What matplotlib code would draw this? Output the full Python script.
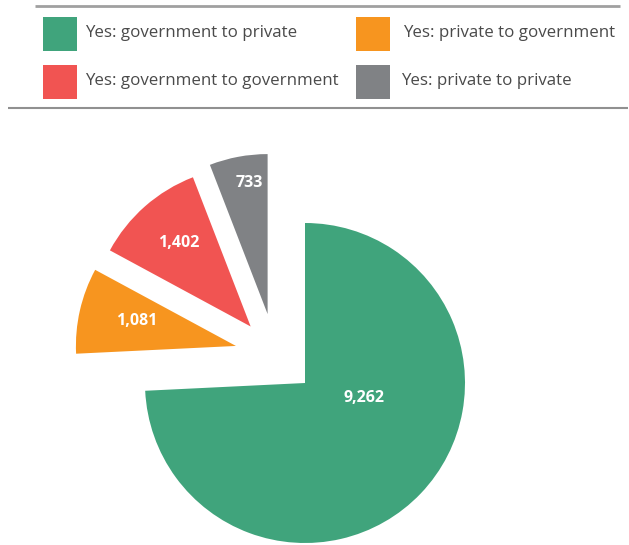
import numpy as np
import matplotlib.pyplot as plt
from matplotlib.patches import Rectangle

plt.rcParams['font.family'] = ['Open Sans', 'DejaVu Sans']

labels = ['Yes: government to private', 'Yes: private to government',
          'Yes: government to government', 'Yes: private to private']
values = [9262, 1081, 1402, 733]
colors = ['#40a47c', '#f7951f', '#f15452', '#808285']

# label placement inside each wedge: radius fraction and turn from the mid angle
label_r = [0.38, 0.64, 0.69, 0.83]
label_turn = [29, -1, -0.5, -2.5]

W, H = 629, 545
fig = plt.figure(figsize=(W / 100, H / 100), dpi=100)
ax = fig.add_axes([0, 0, 1, 1])

cx, cy, R = 305, H - 383, 160
wedges, _ = ax.pie(values, colors=colors, startangle=90, counterclock=False,
                   center=(cx, cy), radius=R, frame=True,
                   wedgeprops=dict(linewidth=0))
ax.set_xlim(0, W)
ax.set_ylim(0, H)
ax.set_aspect('equal')
ax.axis('off')

# pull the three small slices out toward the upper left, as a group
small = wedges[1:]
group_mid = (min(w.theta1 for w in small) + max(w.theta2 for w in small)) / 2
shift = 0.49 * R
for i, w in enumerate(wedges):
    mid = (w.theta1 + w.theta2) / 2
    if i > 0:
        a = np.radians((mid + group_mid) / 2)
        w.set_center((cx + shift * np.cos(a), cy + shift * np.sin(a)))
    wx, wy = w.center
    la = np.radians(mid + label_turn[i])
    ax.text(wx + label_r[i] * R * np.cos(la), wy + label_r[i] * R * np.sin(la),
            f'{values[i]:,}', color='white', fontsize=11.5, fontweight='bold',
            ha='center', va='center')

# legend block between two rules
ax.plot([35, 620], [H - 6, H - 6], color='#a0a0a0', lw=2, solid_capstyle='butt')
ax.plot([8, 628], [H - 108, H - 108], color='#909090', lw=1.5, solid_capstyle='butt')
box_x = [43, 356, 43, 356]
box_y = [17, 17, 65, 65]
text_x = [85, 403, 85, 401]
for i in range(4):
    ax.add_patch(Rectangle((box_x[i], H - box_y[i] - 34), 34, 34,
                           color=colors[i], lw=0))
    ax.text(text_x[i], H - box_y[i] - 16, labels[i], color='#4a4a4a',
            fontsize=12.2, ha='left', va='center')

fig.savefig('out.png', dpi=100)
